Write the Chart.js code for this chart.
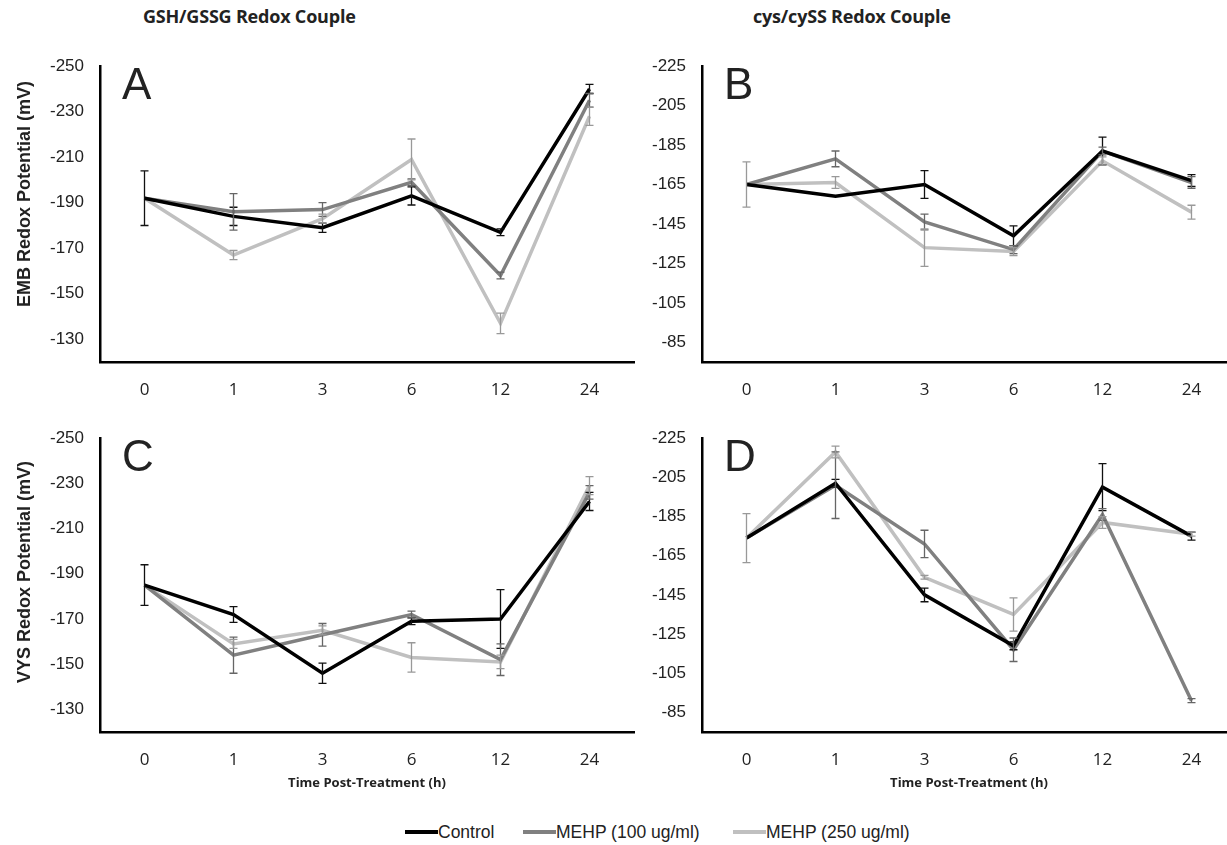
<!DOCTYPE html>
<html>
<head>
<meta charset="utf-8">
<script src="https://cdn.jsdelivr.net/npm/chart.js@4.4.1/dist/chart.umd.min.js"></script>
<style>
  body { margin: 0; background: #fff; }
  #wrap { position: relative; width: 1227px; height: 845px; overflow: hidden; background: #fff; }
  canvas { position: absolute; }
  .couple { position: absolute; top: 4px; font: bold 18px "Open Sans", sans-serif; color: #222; white-space: nowrap; letter-spacing: -0.2px; }
  .key { position: absolute; top: 822px; font: 17.5px "Liberation Sans", Arial, sans-serif; color: #222; white-space: nowrap; }
  .key span { display: inline-block; width: 33px; height: 4px; vertical-align: middle; margin-top: -3px; }
</style>
</head>
<body>
<div id="wrap">
  <div class="couple" style="left:143px">GSH/GSSG Redox Couple</div>
  <div class="couple" style="left:753px">cys/cySS Redox Couple</div>

  <canvas id="chartA" width="650" height="380" style="left:0;top:40px"></canvas>
  <canvas id="chartB" width="610" height="380" style="left:640px;top:40px"></canvas>
  <canvas id="chartC" width="650" height="400" style="left:0;top:412px"></canvas>
  <canvas id="chartD" width="610" height="400" style="left:640px;top:412px"></canvas>

  <div class="key" style="left:405px"><span style="background:#000"></span>Control</div>
  <div class="key" style="left:523px"><span style="background:#808080"></span>MEHP (100 ug/ml)</div>
  <div class="key" style="left:733px"><span style="background:#c0c0c0"></span>MEHP (250 ug/ml)</div>
</div>

<script>
// time points (h)
const timePoints = ['0', '1', '3', '6', '12', '24'];

// tick values for the two redox couples
const ticksGsh = [-250, -230, -210, -190, -170, -150, -130];
const ticksCys = [-225, -205, -185, -165, -145, -125, -105, -85];

// A: EMB, GSH/GSSG
const ctrlA = [-192, -184, -179, -193, -177, -240];
const m100A = [-192, -186, -187, -199, -158, -235];
const m250A = [-192, -167, -183, -209, -137, -228];
const errCtrlA = [12, 4, 2, 4, 1.5, 2];
const errM100A = [0, 8, 3, 1.5, 1.5, 3];
const errM250A = [0, 2, 2, 9, 4.5, 4];

// B: EMB, cys/cySS
const ctrlB = [-165, -159, -165, -139, -182, -167];
const m100B = [-165, -178, -146, -132, -182, -166];
const m250B = [-165, -166, -133, -131, -177, -151];
const errCtrlB = [0, 0, 7, 5, 7, 3];
const errM100B = [0, 4, 4, 2, 2, 3];
const errM250B = [11.5, 3, 9.5, 2, 2, 3.5];

// C: VYS, GSH/GSSG
const ctrlC = [-185, -172, -146, -169, -170, -222];
const m100C = [-185, -154, -163, -172, -152, -226];
const m250C = [-185, -159, -165, -153, -151, -229];
const errCtrlC = [9, 3.5, 4.5, 1.5, 13, 4];
const errM100C = [0, 8, 5, 1.5, 7, 3];
const errM250C = [0, 2, 2, 6.5, 3, 4];

// D: VYS, cys/cySS
const ctrlD = [-174, -202, -145, -119, -200, -175];
const m100D = [-174, -201, -171, -117, -186, -91];
const m250D = [-174, -218, -154, -135, -182, -176];
const errCtrlD = [0, 2, 3.5, 2, 12, 2];
const errM100D = [0, 17, 7, 6, 3, 1];
const errM250D = [12.5, 3, 1, 8.5, 3, 1];

const seriesNames = ['Control', 'MEHP (100 ug/ml)', 'MEHP (250 ug/ml)'];
const lineColors = ['#000000', '#808080', '#c0c0c0'];
const barColors = ['#111111', '#666666', '#999999'];

// draws +/- error bars with caps from dataset.errors
const errorBars = {
    id: 'errorBars',
    afterDatasetsDraw(chart) {
        const ctx = chart.ctx;
        const x = chart.scales.x;
        const y = chart.scales.y;
        ctx.save();
        chart.data.datasets.forEach((ds, i) => {
            ctx.strokeStyle = barColors[i];
            ctx.lineWidth = 1.3;
            ds.errors.forEach((e, j) => {
                if (!e) return;
                const px = x.getPixelForValue(j);
                const y1 = y.getPixelForValue(ds.data[j] - e);
                const y2 = y.getPixelForValue(ds.data[j] + e);
                ctx.beginPath();
                ctx.moveTo(px, y1); ctx.lineTo(px, y2);
                ctx.moveTo(px - 4, y1); ctx.lineTo(px + 4, y1);
                ctx.moveTo(px - 4, y2); ctx.lineTo(px + 4, y2);
                ctx.stroke();
            });
        });
        ctx.restore();
    }
};

// big panel letter in the upper left of the plot area, plus the rotated y title
const panelText = {
    id: 'panelText',
    afterDraw(chart, args, opts) {
        const ctx = chart.ctx;
        const area = chart.chartArea;
        ctx.save();
        ctx.font = '44px "Liberation Sans", Arial, sans-serif';
        ctx.fillStyle = '#222';
        ctx.textBaseline = 'alphabetic';
        ctx.fillText(opts.letter, area.left + 22, area.top + 33);
        if (opts.yTitle) {
            ctx.translate(25, (area.top + area.bottom) / 2 + opts.yShift);
            ctx.rotate(-Math.PI / 2);
            ctx.font = 'bold 18px "Liberation Sans", Arial, sans-serif';
            ctx.textAlign = 'center';
            ctx.textBaseline = 'middle';
            ctx.fillText(opts.yTitle, 0, 0);
        }
        ctx.restore();
    }
};

function makePanel(id, p) {
    const data = {
        labels: timePoints,
        datasets: [p.ctrl, p.m100, p.m250].map((vals, i) => ({
            label: seriesNames[i],
            data: vals,
            errors: p.errs[i],
            borderColor: lineColors[i],
            backgroundColor: lineColors[i],
            borderWidth: 3.5,
            pointRadius: 0,
            tension: 0
        }))
    };

    new Chart(document.getElementById(id), {
        type: 'line',
        data: data,
        plugins: [errorBars, panelText],
        options: {
            responsive: false,
            animation: false,
            layout: { padding: { top: 17, right: p.padRight, left: 0, bottom: 0 } },
            plugins: {
                legend: { display: false },
                tooltip: { enabled: false },
                panelText: { letter: p.letter, yTitle: p.yTitle, yShift: p.yShift || 0 }
            },
            scales: {
                x: {
                    offset: true,
                    grid: { display: false, drawTicks: false },
                    border: { color: '#000', width: 2.5 },
                    ticks: { padding: 18, color: '#222', font: { family: '"Open Sans", sans-serif', size: 17 } },
                    title: {
                        display: !!p.xTitle,
                        text: p.xTitle || '',
                        color: '#222',
                        font: { family: '"Open Sans", sans-serif', size: 13, weight: 'bold' },
                        padding: { top: 0, bottom: 21 }
                    },
                    afterFit: (s) => { s.height = p.xHeight; }
                },
                y: {
                    reverse: true,
                    min: p.min,
                    max: p.max,
                    grid: { display: false, drawTicks: false },
                    border: { color: '#000', width: 2.5 },
                    ticks: { padding: 16, color: '#222', font: { family: '"Liberation Sans", Arial, sans-serif', size: 17 } },
                    afterBuildTicks: (axis) => { axis.ticks = p.ticks.map(v => ({ value: v })); },
                    afterFit: (s) => { s.width = p.yWidth; }
                }
            }
        }
    });
}

makePanel('chartA', {
    letter: 'A', ctrl: ctrlA, m100: m100A, m250: m250A, errs: [errCtrlA, errM100A, errM250A],
    min: -250, max: -120, ticks: ticksGsh,
    yTitle: 'EMB Redox Potential (mV)', yShift: -20,
    yWidth: 100, padRight: 16, xHeight: 58
});
makePanel('chartB', {
    letter: 'B', ctrl: ctrlB, m100: m100B, m250: m250B, errs: [errCtrlB, errM100B, errM250B],
    min: -225, max: -75, ticks: ticksCys,
    yWidth: 62, padRight: 14, xHeight: 58
});
makePanel('chartC', {
    letter: 'C', ctrl: ctrlC, m100: m100C, m250: m250C, errs: [errCtrlC, errM100C, errM250C],
    min: -250, max: -120, ticks: ticksGsh,
    yTitle: 'VYS Redox Potential (mV)', yShift: -13,
    xTitle: 'Time Post-Treatment (h)',
    yWidth: 100, padRight: 16, xHeight: 80
});
makePanel('chartD', {
    letter: 'D', ctrl: ctrlD, m100: m100D, m250: m250D, errs: [errCtrlD, errM100D, errM250D],
    min: -225, max: -75, ticks: ticksCys,
    xTitle: 'Time Post-Treatment (h)',
    yWidth: 62, padRight: 14, xHeight: 80
});
</script>
</body>
</html>
